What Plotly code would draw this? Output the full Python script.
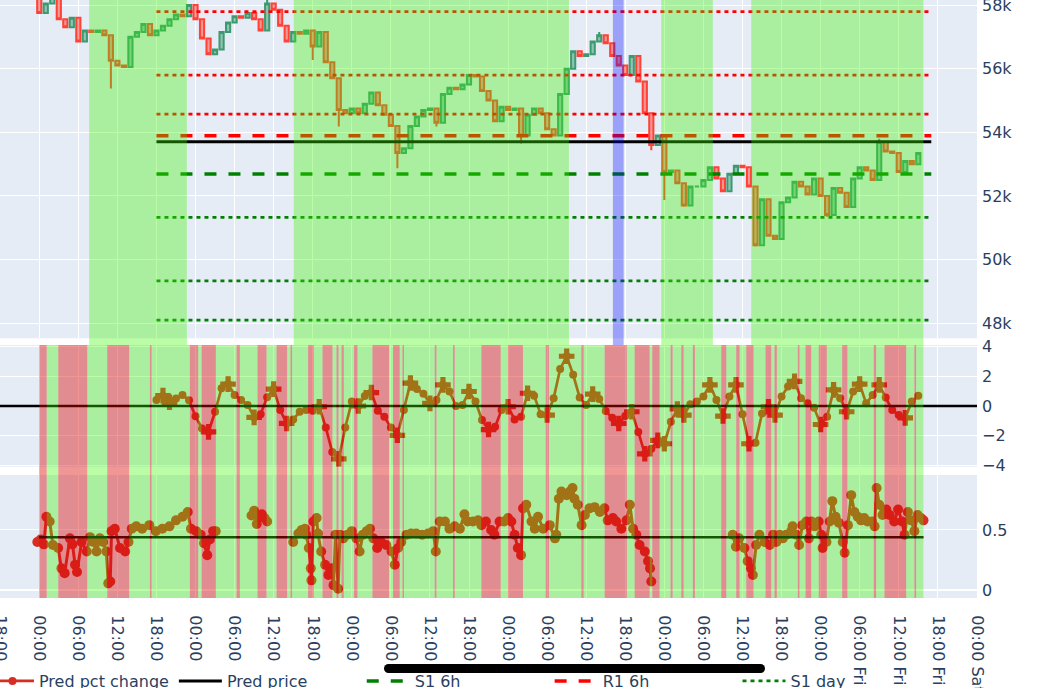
import pandas as pd
import plotly.graph_objects as go
from plotly.subplots import make_subplots

# ---------------- data (hours measured from Sunday 00:00) ----------------
BASE = pd.Timestamp("2024-09-01 00:00")  # Sunday

price_first_open = 58.60
price_close_k = [
    57.75, 58.05, 58.25, 57.55, 57.30, 57.60, 56.85, 57.20, 57.15, 57.20,
    57.05, 56.25, 56.10, 56.05, 57.00, 57.15, 57.40, 57.05, 57.20, 57.35,
    57.55, 57.70, 57.65, 58.00, 57.55, 56.95, 56.45, 56.60, 57.15, 57.45,
    57.65, 57.60, 57.75, 57.55, 57.20, 58.05, 57.85, 57.35, 56.85, 57.15,
    57.10, 57.20, 56.70, 57.15, 56.20, 55.70, 54.70, 54.60, 54.75, 54.60,
    54.90, 55.25, 54.85, 54.55, 54.20, 53.35, 53.50, 54.20, 54.50, 54.70,
    54.75, 54.30, 55.20, 55.40, 55.35, 55.50, 55.80, 55.75, 55.30, 55.00,
    54.35, 54.80, 54.70, 54.75, 53.90, 54.55, 54.75, 54.60, 54.10, 53.90,
    55.20, 56.00, 56.55, 56.40, 56.45, 56.85, 57.05, 56.80, 56.40, 56.10,
    55.80, 56.40, 55.60, 54.60, 53.60, 53.90, 52.75, 52.80, 52.40, 51.70,
    52.30, 52.30, 52.50, 52.90, 52.55, 52.15, 52.70, 52.95, 52.90, 52.30,
    50.45, 51.90, 50.75, 50.65, 51.80, 51.95, 52.45, 52.30, 52.05, 52.55,
    52.00, 51.40, 52.25, 52.10, 51.65, 52.55, 52.90, 52.80, 52.50, 53.70,
    53.40, 53.35, 52.75, 53.10, 53.00, 53.35,
]
price_low_wicks_k = {11: 55.38, 42: 56.27, 46: 54.18, 55: 52.87, 61: 54.18, 74: 53.65,
                     94: 53.44, 96: 51.87, 99: 51.66, 110: 50.41, 112: 50.72, 113: 50.62,
                     121: 51.35}
price_high_wicks_k = {2: 58.40, 35: 58.30, 86: 57.15, 129: 53.80}

level_start_h, level_end_h = 18, 137
pred_price = 53705
r1_6h = 53894
s1_6h = 52690
day_levels = [("S1 day", 51330, "green"), ("R1 day", 54570, "red"),
              ("S2 day", 49330, "green"), ("R2 day", 55800, "red"),
              ("S3 day", 48100, "green"), ("R3 day", 57790, "red")]

pct_start_h = 18
pct_values = [
    0.41, 0.70, 0.25, 0.50, 0.75, 0.38, -0.70, -1.52, -1.75, -0.39,
    1.20, 1.48, 0.75, 0.41, 0.07, -0.77, -0.55, 0.59, 1.14, -0.27,
    -1.18, -0.91, -0.39, -0.27, -0.32, -0.05, -1.45, -3.11, -3.57, -1.45,
    0.30, 0.00, 0.68, 0.91, -0.32, -0.73, -1.45, -1.98, -0.27, 1.55,
    1.14, 0.82, 0.18, 0.41, 1.43, 0.98, 0.00, 0.07, 0.98, 0.30,
    -0.95, -1.59, -1.41, -0.27, -0.05, -0.91, -0.73, 0.86, 0.70, -0.55,
    -0.61, 0.52, 2.50, 3.36, 2.11, 0.57, 0.07, 0.80, 0.48, -0.34,
    -0.80, -1.18, -0.68, -0.39, -1.75, -3.23, -2.89, -2.32, -2.55, -1.07,
    -0.20, -0.61, 0.11, 0.30, 0.64, 1.43, 0.41, -0.68, 0.64, 1.43,
    -0.55, -2.55, -2.48, -0.50, -0.05, -0.61, 0.64, 1.32, 1.66, 0.52,
    0.18, -0.11, -1.25, -0.73, 1.09, 0.52, -0.39, 0.98, 1.48, 0.18,
    0.75, 1.43, 0.57, -0.27, -0.61, -0.80, 0.30, 0.70,
]
pct_cross_hours = [19, 20, 26, 29, 33, 36, 38, 43, 46, 49, 51, 55, 57, 60, 62, 66, 69, 72,
                   75, 78, 81, 85, 89, 91, 93, 95, 96, 98, 99, 103, 105, 107, 109, 112, 113,
                   116, 120, 122, 124, 126, 129, 133]

conf_hours = [
    -0.3, 0.2, 0.7, 1.1, 1.6, 2.1, 2.9, 3.4, 3.9, 4.7, 5.1, 5.5, 5.8, 6.5, 7.3, 7.8, 8.3,
    8.8, 9.3, 9.8, 10.3, 10.6, 10.9, 11.1, 11.6, 12.4, 13.2, 13.7, 14.2, 14.9, 15.8, 16.9,
    17.9, 18.9, 20.0, 21.0, 22.0, 22.8, 23.3, 24.1, 24.8, 25.3, 25.8, 26.2, 26.7, 27.1,
    None,
    32.6, 33.0, 33.4, 33.8, 34.2, 34.6, 35.0,
    None,
    39.0, 39.8, 40.3, 40.8, 41.0, 41.4, 41.7, 41.8, 42.1, 42.6, 42.8, 43.3, 43.9, 44.4,
    44.9, 45.2, 45.5, 45.9, 46.2, 46.7, 47.3, 48.0, 48.7, 49.2, 49.7, 50.3, 50.8, 51.3,
    51.9, 52.5, 53.3, 54.1, 54.6, 55.1, 55.6, 56.4, 57.1, 57.9, 58.8, 59.7, 60.5, 60.9,
    61.5, 62.3, 63.0, 63.8, 64.6, 65.3, 65.8, 66.6, 67.4, 67.9, 68.6, 69.4, 69.9, 70.7,
    71.4, 72.0, 72.5, 73.0, 73.5, 74.0, 74.3, 74.8, 75.6, 76.1, 76.6, 77.4, 78.4, 79.2,
    79.4, 79.8, 80.2, 81.0, 81.5, 81.9, 82.2, 82.7, 83.3, 83.8, 84.5, 85.3, 86.1, 86.8,
    87.3, 88.1, 88.6, 89.4, 90.2, 90.7, 91.2, 91.7, 92.2, 93.0, 93.5, 93.8, 94.0,
    None,
    106.5, 107.0, 107.5, 108.3, 108.8, 109.3, 109.6, 110.1, 110.6, 111.4, 112.2, 112.7,
    113.2, 113.7, 114.2, 114.7, 115.5, 115.7, 116.3, 116.7, 117.2, 117.8, 118.2, 118.6,
    119.1, 119.7, 120.1, 120.3, 120.9, 121.4, 121.8, 122.3, 122.8, 123.4, 123.7, 124.2,
    124.7, 125.2, 125.7, 126.2, 126.7, 127.2, 127.9, 128.3, 128.6, 129.0, 129.5, 130.1,
    130.6, 131.3, 131.9, 132.5, 132.9, 133.4, 133.9, 134.4, 134.9, 135.4, 135.8,
]
conf_values = [
    0.40, 0.42, 0.38, 0.61, 0.57, 0.375, 0.35, 0.18, 0.14, 0.43, 0.38, 0.21, 0.15, 0.40, 0.32, 0.44, 0.40,
    0.32, 0.43, 0.40, 0.32, 0.055, 0.07, 0.49, 0.51, 0.35, 0.32, 0.40, 0.51, 0.53, 0.51, 0.54,
    0.49, 0.51, 0.53, 0.58, 0.61, 0.65, 0.51, 0.49, 0.46, 0.39, 0.29, 0.42, 0.49, 0.49,
    None,
    0.62, 0.66, 0.55, 0.61, 0.63, 0.60, 0.57,
    None,
    0.40, 0.47, 0.50, 0.51, 0.46, 0.35, 0.18, 0.08, 0.57, 0.60, 0.47, 0.32, 0.21, 0.125,
    0.18, 0.04, 0.46, 0.01, 0.46, 0.43, 0.46, 0.49, 0.43, 0.32, 0.46, 0.49, 0.51, 0.43,
    0.35, 0.40, 0.375, 0.32, 0.21, 0.35, 0.40, 0.46, 0.47, 0.47, 0.46, 0.47, 0.49, 0.32,
    0.57, 0.57, 0.51, 0.53, 0.51, 0.63, 0.57, 0.57, 0.58, 0.54, 0.57, 0.50, 0.46, 0.57,
    0.57, 0.60, 0.57, 0.46, 0.35, 0.29, 0.68, 0.71, 0.57, 0.51, 0.61, 0.51, 0.54, 0.43,
    0.46, 0.76, 0.82, 0.79, 0.82, 0.85, 0.76, 0.71, 0.54, 0.625, 0.68, 0.69, 0.65, 0.68,
    0.58, 0.60, 0.57, 0.51, 0.58, 0.71, 0.51, 0.46, 0.375, 0.32, 0.24, 0.18, 0.07,
    None,
    0.46, 0.36, 0.43, 0.35, 0.24, 0.18, 0.125, 0.375, 0.46, 0.40, 0.375, 0.46,
    0.40, 0.46, 0.43, 0.46, 0.49, 0.53, 0.46, 0.375, 0.54, 0.57, 0.43, 0.57,
    0.53, 0.57, 0.46, 0.35, 0.40, 0.57, 0.74, 0.61, 0.56, 0.40, 0.31, 0.54,
    0.79, 0.65, 0.61, 0.58, 0.60, 0.57, 0.57, 0.53, 0.85, 0.71, 0.625, 0.67,
    0.625, 0.57, 0.67, 0.57, 0.46, 0.65, 0.58, 0.49, 0.625, 0.60, 0.58,
]
conf_threshold = 0.44
conf_line_hours = [0.0, 135.8]

# signal bars (rows 2-3): red intervals, green fills the rest
bars_start_h, bars_end_h = 0.0, 135.79
red_bars = [
    (0.00, 1.14), (2.92, 7.37), (10.44, 13.81), (16.99, 17.25), (23.13, 24.41),
    (24.93, 27.12), (30.30, 30.81), (33.52, 34.90), (36.44, 38.07), (38.59, 38.83),
    (41.29, 42.16), (43.50, 45.03), (45.65, 45.96), (46.42, 46.77), (48.35, 48.87),
    (51.17, 53.72), (54.34, 55.36), (55.78, 56.02), (60.74, 61.00), (63.55, 63.81),
    (67.90, 70.87), (71.99, 74.29), (77.77, 78.28), (83.25, 83.61), (86.83, 90.25),
    (91.44, 93.74), (94.15, 95.27), (96.96, 97.27), (98.60, 98.96), (100.38, 100.69),
    (104.74, 105.51), (107.04, 107.55), (108.58, 109.70), (111.54, 112.42),
    (112.92, 113.28), (116.50, 116.76), (117.68, 118.56), (119.72, 120.95),
    (123.31, 124.12), (128.16, 128.53), (129.81, 133.14), (134.41, 134.67),
]
# price-row regimes
price_green = [(7.67, 22.67), (39.09, 81.35), (95.53, 103.45), (109.35, 135.79)]
price_blue = [(88.10, 89.75)]

x_range_h = (-6.03, 144.02)

# ---------------- helpers ----------------
def T(h):
    return None if h is None else BASE + pd.Timedelta(hours=h)

TRACE_RED = "#D72D23"
W, H = 1047, 688
ML, MR, MT, MB = 0, 70, 0, 90
PW, PH = W - ML - MR, H - MT - MB

def px_x(p):  # pixel -> paper x
    return (p - ML) / PW

def px_y(p):  # pixel -> paper y
    return (H - MB - p) / PH

fig = make_subplots(rows=3, cols=1, shared_xaxes=True, vertical_spacing=0.01)

# ---- row 1: candles
opens = [price_first_open] + price_close_k[:-1]
highs, lows = [], []
for i, (o, c) in enumerate(zip(opens, price_close_k)):
    highs.append(max(o, c, price_high_wicks_k.get(i, c)) * 1000)
    lows.append(min(o, c, price_low_wicks_k.get(i, c)) * 1000)
fig.add_trace(go.Candlestick(
    x=[T(h) for h in range(len(price_close_k))],
    open=[v * 1000 for v in opens], close=[v * 1000 for v in price_close_k],
    high=highs, low=lows, showlegend=False, name="BTC",
    increasing_line_width=2, decreasing_line_width=2), row=1, col=1)

# ---- row 2 pct line (first legend entry)
pct_hours = list(range(pct_start_h, pct_start_h + len(pct_values)))
fig.add_trace(go.Scatter(
    x=[T(h) for h in pct_hours], y=pct_values, mode="lines+markers",
    name="Pred pct change", line=dict(color=TRACE_RED, width=2.7),
    marker=dict(size=8, color=TRACE_RED)), row=2, col=1)
cross_y = [pct_values[h - pct_start_h] for h in pct_cross_hours]
fig.add_trace(go.Scatter(
    x=[T(h) for h in pct_cross_hours], y=cross_y, mode="markers", showlegend=False,
    marker=dict(symbol="cross", size=13, color=TRACE_RED)), row=2, col=1)

lx = [T(level_start_h), T(level_end_h)]
fig.add_trace(go.Scatter(x=lx, y=[pred_price] * 2, mode="lines", name="Pred price",
                         line=dict(color="black", width=3)), row=1, col=1)
fig.add_trace(go.Scatter(x=lx, y=[s1_6h] * 2, mode="lines", name="S1 6h",
                         line=dict(color="green", width=3.5, dash="12px,12px")), row=1, col=1)
fig.add_trace(go.Scatter(x=lx, y=[r1_6h] * 2, mode="lines", name="R1 6h",
                         line=dict(color="red", width=3.5, dash="12px,12px")), row=1, col=1)
for name, val, col in day_levels:
    fig.add_trace(go.Scatter(x=lx, y=[val] * 2, mode="lines", name=name,
                             line=dict(color=col, width=2.7, dash="4px,4px")), row=1, col=1)

# ---- row 3
fig.add_trace(go.Scatter(
    x=[T(h) for h in conf_hours], y=conf_values, mode="lines+markers", name="Confidence",
    showlegend=False, line=dict(color=TRACE_RED, width=3), marker=dict(size=10, color=TRACE_RED)),
    row=3, col=1)
fig.add_trace(go.Scatter(x=[T(h) for h in conf_line_hours], y=[conf_threshold] * 2,
                         mode="lines", showlegend=False, line=dict(color="black", width=2.5)),
              row=3, col=1)

# ---- shapes
shapes = []
shapes.append(dict(type="line", xref="paper", yref="y2", x0=0, x1=1, y0=0, y1=0,
                   line=dict(color="black", width=2.5), layer="above"))
row2_top = px_y(345)

def rect(a, b, color, op, y0, y1):
    return dict(type="rect", xref="x", yref="paper", x0=T(a), x1=T(b), y0=y0, y1=y1,
                fillcolor=color, opacity=op, line=dict(width=0), layer="above")

GREEN_FILL, RED_FILL, BLUE_FILL = "#3CF700", "#DC0705", "#0000ff"
for a, b in price_green:
    shapes.append(rect(a, b, GREEN_FILL, 0.35, row2_top, 1))
for a, b in price_blue:
    shapes.append(rect(a, b, BLUE_FILL, 0.32, row2_top, 1))
green_bars = []
cur = bars_start_h
for a, b in red_bars:
    if a > cur:
        green_bars.append((cur, a))
    cur = max(cur, b)
if cur < bars_end_h:
    green_bars.append((cur, bars_end_h))
for a, b in green_bars:
    shapes.append(rect(a, b, GREEN_FILL, 0.35, 0, row2_top))
for a, b in red_bars:
    shapes.append(rect(a, b, RED_FILL, 0.42, 0, row2_top))

# legend backing (covers the lower part of the rotated tick labels)
shapes.append(dict(type="rect", xref="paper", yref="paper", x0=px_x(-20), x1=px_x(852),
                   y0=px_y(700), y1=px_y(661), fillcolor="white", line=dict(width=0),
                   layer="above"))
# rounded black bar overlay (screen indicator)
bx0, bx1, by0, by1 = 384, 765, 664, 673
r = (by1 - by0) / 2
shapes.append(dict(type="rect", xref="paper", yref="paper", x0=px_x(bx0 + r), x1=px_x(bx1 - r),
                   y0=px_y(by1), y1=px_y(by0), fillcolor="black", line=dict(width=0), layer="above"))
for cx in (bx0 + r, bx1 - r):
    shapes.append(dict(type="circle", xref="paper", yref="paper", x0=px_x(cx - r), x1=px_x(cx + r),
                       y0=px_y(by1), y1=px_y(by0), fillcolor="black", line=dict(width=0),
                       layer="above"))

fig.update_layout(
    width=W, height=H, template="plotly",
    font=dict(family="DejaVu Sans", size=16, color="#2a3f5f"),
    margin=dict(l=ML, r=MR, t=MT, b=MB, autoexpand=False),
    shapes=shapes,
    showlegend=True,
    boxgap=0.08,
    legend=dict(orientation="h", x=px_x(-14), y=px_y(664), xanchor="left", yanchor="top",
                itemwidth=43, bgcolor="rgba(0,0,0,0)", font=dict(size=16)),
    yaxis=dict(domain=[px_y(338.3), 1.0], range=[47529, 58157], dtick=2000, side="right"),
    yaxis2=dict(domain=[px_y(466.7), px_y(345)], range=[-4.1, 4.12], dtick=2, side="right"),
    yaxis3=dict(domain=[0, px_y(475)], range=[-0.067, 0.958], dtick=0.5, side="right"),
)
fig.update_yaxes(automargin=False, fixedrange=True, ticklabeloverflow="allow",
                 ticklabelstandoff=4)
fig.update_xaxes(range=[T(x_range_h[0]), T(x_range_h[1])], dtick=6 * 3600 * 1000,
                 tick0=BASE, tickformat="%H:%M %a", tickangle=90, automargin=False,
                 rangeslider_visible=False, ticklabeloverflow="allow",
                 ticks="outside", ticklen=13, tickcolor="rgba(0,0,0,0)")

fig.write_html("out.html")
